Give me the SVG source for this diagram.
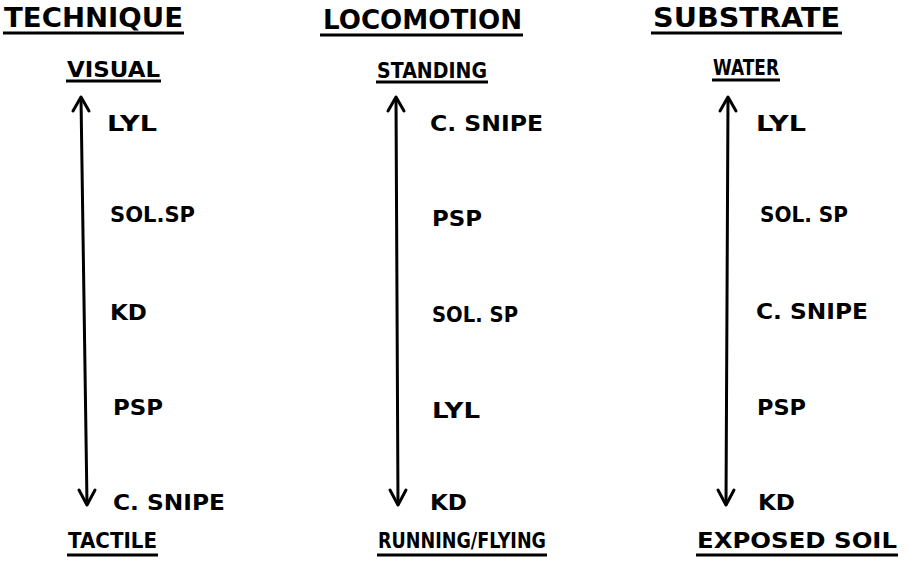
<svg xmlns="http://www.w3.org/2000/svg" width="908" height="564" viewBox="0 0 908 564">
<style>
text{font-family:"DejaVu Sans","Liberation Sans",sans-serif;font-weight:bold;fill:#000}
.h{font-size:27px}
.e{font-size:21px}
.i{font-size:21px}
.u{stroke:#000;stroke-width:3;fill:none}
.ax{stroke:#000;stroke-width:3;fill:none;stroke-linecap:round;stroke-linejoin:round}
</style>
<rect width="908" height="564" fill="#fff"/>
<g id="headers">
<text class="h" x="4" y="27" textLength="179" lengthAdjust="spacingAndGlyphs">TECHNIQUE</text>
<line class="u" x1="3" y1="33" x2="184" y2="33"/>
<text class="h" x="323" y="29" textLength="199" lengthAdjust="spacingAndGlyphs">LOCOMOTION</text>
<line class="u" x1="320" y1="35" x2="523" y2="35"/>
<text class="h" x="653" y="27" textLength="187" lengthAdjust="spacingAndGlyphs">SUBSTRATE</text>
<line class="u" x1="651" y1="33" x2="842" y2="33"/>
</g>
<g id="connectors">
<line class="ax" x1="81" y1="98" x2="87" y2="504"/>
<polyline class="ax" points="73,111 81,97 89,111"/>
<polyline class="ax" points="79,490 87,505 95,490"/>
<line class="ax" x1="396" y1="98" x2="398" y2="504"/>
<polyline class="ax" points="388,111 396,97 404,111"/>
<polyline class="ax" points="390,490 398,505 406,490"/>
<line class="ax" x1="728" y1="98" x2="726" y2="504"/>
<polyline class="ax" points="720,111 728,97 736,111"/>
<polyline class="ax" points="718,490 726,505 734,490"/>
</g>
<g id="col1">
<g id="visual"><text class="e" x="67" y="77" textLength="93" lengthAdjust="spacingAndGlyphs">VISUAL</text><line class="u" x1="66" y1="81" x2="161" y2="81"/></g>
<g id="c1-lyl"><text class="i" x="107" y="131" textLength="50" lengthAdjust="spacingAndGlyphs">LYL</text></g>
<g id="c1-solsp"><text class="i" x="110" y="222" textLength="85" lengthAdjust="spacingAndGlyphs">SOL.SP</text></g>
<g id="c1-kd"><text class="i" x="110" y="320" textLength="37" lengthAdjust="spacingAndGlyphs">KD</text></g>
<g id="c1-psp"><text class="i" x="113" y="415" textLength="50" lengthAdjust="spacingAndGlyphs">PSP</text></g>
<g id="c1-csnipe"><text class="i" x="113" y="510" textLength="112" lengthAdjust="spacingAndGlyphs">C. SNIPE</text></g>
<g id="tactile"><text class="e" x="68" y="548" textLength="89" lengthAdjust="spacingAndGlyphs">TACTILE</text><line class="u" x1="67" y1="555" x2="158" y2="555"/></g>
</g>
<g id="col2">
<g id="standing"><text class="e" x="377" y="78" textLength="110" lengthAdjust="spacingAndGlyphs">STANDING</text><line class="u" x1="376" y1="82" x2="488" y2="82"/></g>
<g id="c2-csnipe"><text class="i" x="430" y="131" textLength="113" lengthAdjust="spacingAndGlyphs">C. SNIPE</text></g>
<g id="c2-psp"><text class="i" x="432" y="226" textLength="50" lengthAdjust="spacingAndGlyphs">PSP</text></g>
<g id="c2-solsp"><text class="i" x="432" y="322" textLength="86" lengthAdjust="spacingAndGlyphs">SOL. SP</text></g>
<g id="c2-lyl"><text class="i" x="432" y="418" textLength="48" lengthAdjust="spacingAndGlyphs">LYL</text></g>
<g id="c2-kd"><text class="i" x="430" y="510" textLength="37" lengthAdjust="spacingAndGlyphs">KD</text></g>
<g id="running"><text class="e" x="378" y="548" textLength="168" lengthAdjust="spacingAndGlyphs">RUNNING/FLYING</text><line class="u" x1="377" y1="555" x2="547" y2="555"/></g>
</g>
<g id="col3">
<g id="water"><text class="e" x="713" y="75" textLength="66" lengthAdjust="spacingAndGlyphs">WATER</text><line class="u" x1="712" y1="80" x2="780" y2="80"/></g>
<g id="c3-lyl"><text class="i" x="756" y="131" textLength="50" lengthAdjust="spacingAndGlyphs">LYL</text></g>
<g id="c3-solsp"><text class="i" x="760" y="222" textLength="88" lengthAdjust="spacingAndGlyphs">SOL. SP</text></g>
<g id="c3-csnipe"><text class="i" x="756" y="319" textLength="112" lengthAdjust="spacingAndGlyphs">C. SNIPE</text></g>
<g id="c3-psp"><text class="i" x="757" y="415" textLength="49" lengthAdjust="spacingAndGlyphs">PSP</text></g>
<g id="c3-kd"><text class="i" x="758" y="510" textLength="37" lengthAdjust="spacingAndGlyphs">KD</text></g>
<g id="exposed"><text class="e" x="697" y="548" textLength="200" lengthAdjust="spacingAndGlyphs">EXPOSED SOIL</text><line class="u" x1="696" y1="555" x2="898" y2="555"/></g>
</g>
</svg>
